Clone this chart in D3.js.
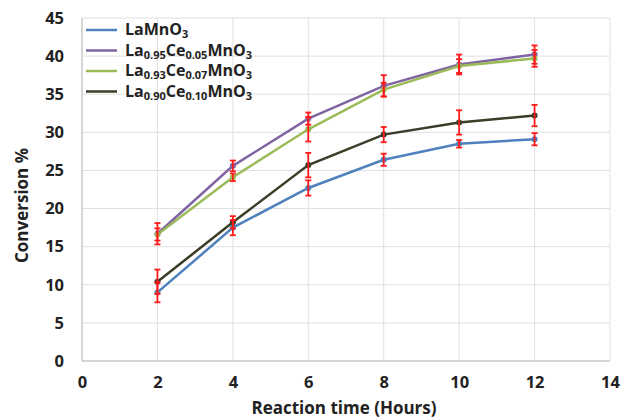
<!DOCTYPE html>
<html>
<head>
<meta charset="utf-8">
<script src="https://cdn.jsdelivr.net/npm/d3@7"></script>
<style>
  body { margin: 0; background: #fff; }
  svg text { font-family: "Open Sans", Lato, sans-serif; font-weight: 700; fill: #222; }
</style>
</head>
<body>
<div id="chart"></div>
<script>
const hours = [2, 4, 6, 8, 10, 12];
const xTicks = [0, 2, 4, 6, 8, 10, 12, 14];
const yTicks = [0, 5, 10, 15, 20, 25, 30, 35, 40, 45];

const seriesNames = [
  [{ t: "LaMnO" }, { t: "3", sub: true }],
  [{ t: "La" }, { t: "0.95", sub: true }, { t: "Ce" }, { t: "0.05", sub: true }, { t: "MnO" }, { t: "3", sub: true }],
  [{ t: "La" }, { t: "0.93", sub: true }, { t: "Ce" }, { t: "0.07", sub: true }, { t: "MnO" }, { t: "3", sub: true }],
  [{ t: "La" }, { t: "0.90", sub: true }, { t: "Ce" }, { t: "0.10", sub: true }, { t: "MnO" }, { t: "3", sub: true }]
];
const seriesColors = ["#4f81bd", "#8064a2", "#9bbb59", "#3c3c28"];

const laMnO3 = [9.0, 17.5, 22.7, 26.4, 28.5, 29.1];
const ce005 = [16.7, 25.6, 31.8, 36.1, 38.9, 40.2];
const ce007 = [16.6, 24.1, 30.4, 35.6, 38.7, 39.7];
const ce010 = [10.4, 18.2, 25.7, 29.7, 31.3, 32.2];

const errLaMnO3 = [1.3, 1.0, 1.0, 0.8, 0.5, 0.8];
const err005 = [1.4, 0.7, 0.8, 1.4, 1.3, 1.2];
const err007 = [0.8, 0.5, 1.6, 0.9, 0.9, 1.1];
const err010 = [1.6, 0.8, 1.6, 1.0, 1.6, 1.4];

(() => {
  const width = 621, height = 418;
  const margin = { top: 18, right: 11, bottom: 57, left: 82 };
  const iw = width - margin.left - margin.right, ih = height - margin.top - margin.bottom;

  const series = [
    { values: laMnO3, err: errLaMnO3 },
    { values: ce005, err: err005 },
    { values: ce007, err: err007 },
    { values: ce010, err: err010 }
  ].map((s, i) => ({ ...s, color: seriesColors[i], name: seriesNames[i] }));

  const x = d3.scaleLinear().domain([0, 14]).range([0, iw]);
  const y = d3.scaleLinear().domain([0, 45]).range([ih, 0]);

  const svg = d3.select("#chart").append("svg")
    .attr("width", width).attr("height", height);
  const chart = svg.append("g").attr("transform", `translate(${margin.left},${margin.top})`);

  // grid
  chart.append("g").selectAll("line").data(yTicks).enter().append("line")
    .attr("x1", 0).attr("x2", iw)
    .attr("y1", d => y(d)).attr("y2", d => y(d))
    .attr("stroke", d => d === 0 ? "#c8c8c8" : "#e0e0e0").attr("stroke-width", d => d === 0 ? 1.5 : 1);
  chart.append("g").selectAll("line").data(xTicks).enter().append("line")
    .attr("x1", d => x(d)).attr("x2", d => x(d))
    .attr("y1", 0).attr("y2", ih)
    .attr("stroke", d => d === 0 ? "#c8c8c8" : "#e0e0e0").attr("stroke-width", d => d === 0 ? 1.5 : 1);

  // axes labels
  const xAxis = d3.axisBottom(x).tickValues(xTicks).tickSize(0).tickPadding(15);
  const yAxis = d3.axisLeft(y).tickValues(yTicks).tickSize(0).tickPadding(18);
  chart.append("g").attr("transform", `translate(0,${ih})`).call(xAxis)
    .call(g => g.select(".domain").remove())
    .selectAll("text").style("font-size", "16.5px").style("font-family", "'Open Sans', sans-serif").attr("fill", "#222");
  chart.append("g").call(yAxis)
    .call(g => g.select(".domain").remove())
    .selectAll("text").style("font-size", "16.5px").style("font-family", "'Open Sans', sans-serif").attr("fill", "#222");

  svg.append("text")
    .attr("x", margin.left + iw / 2 - 2).attr("y", 414)
    .attr("text-anchor", "middle").style("font-size", "17px")
    .text("Reaction time (Hours)");
  svg.append("text")
    .attr("transform", `translate(28,${margin.top + ih / 2 + 16}) rotate(-90)`)
    .attr("text-anchor", "middle").style("font-size", "17px")
    .text("Conversion %");

  const line = d3.line().x((d, i) => x(hours[i])).y(d => y(d));

  series.forEach(s => {
    chart.append("path").datum(s.values)
      .attr("d", line).attr("fill", "none")
      .attr("stroke", s.color).attr("stroke-width", 2.5);
  });

  series.forEach(s => {
    const g = chart.append("g");
    g.selectAll("circle").data(s.values).enter().append("circle")
      .attr("cx", (d, i) => x(hours[i])).attr("cy", d => y(d))
      .attr("r", 3).attr("fill", s.color);
  });

  // error bars
  series.forEach(s => {
    const g = chart.append("g").attr("stroke", "#ff1a1a").attr("stroke-width", 1.8);
    s.values.forEach((v, i) => {
      const cx = x(hours[i]), e = s.err[i];
      g.append("line").attr("x1", cx).attr("x2", cx).attr("y1", y(v - e)).attr("y2", y(v + e));
      [v - e, v + e].forEach(w => {
        g.append("line").attr("x1", cx - 3).attr("x2", cx + 3).attr("y1", y(w)).attr("y2", y(w));
      });
    });
  });

  // legend
  const legend = svg.append("g");
  series.forEach((s, i) => {
    const ly = 30 + i * 20.5;
    legend.append("line").attr("x1", 86).attr("x2", 117).attr("y1", ly).attr("y2", ly)
      .attr("stroke", s.color).attr("stroke-width", 2.5);
    const t = legend.append("text").attr("x", 125).attr("y", ly + 5).style("font-size", "16px");
    s.name.forEach((p, j) => {
      const prev = j > 0 ? s.name[j - 1] : null;
      let dy = 0;
      if (p.sub && !(prev && prev.sub)) dy = 3;
      if (!p.sub && prev && prev.sub) dy = -3;
      const ts = t.append("tspan").text(p.t).attr("dy", dy);
      if (p.sub) ts.style("font-size", "11px");
    });
  });
})();
</script>
</body>
</html>
